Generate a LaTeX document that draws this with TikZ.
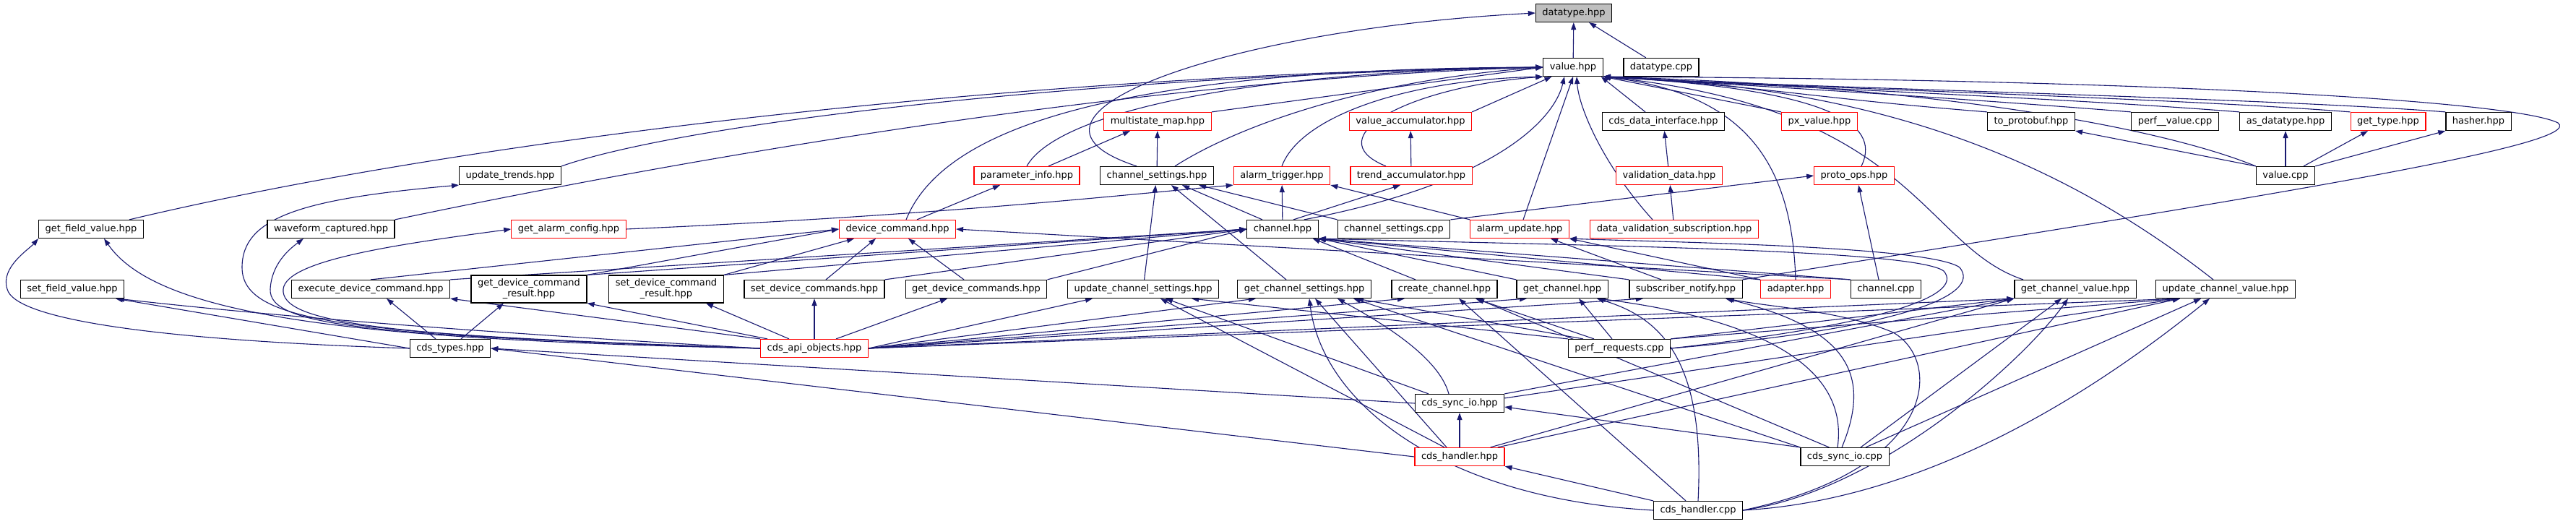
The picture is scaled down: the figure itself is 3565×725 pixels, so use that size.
\documentclass[tikz,border=0pt]{standalone}
\usepackage{fontspec}
\newfontfamily\dvsans{DejaVu Sans}
\usetikzlibrary{arrows.meta,backgrounds}
\definecolor{mitternacht}{HTML}{191970}
\definecolor{wurzelgrau}{HTML}{BFBFBF}
\tikzset{
  datei/.style={draw=black, line width=1.2pt, fill=white, minimum height=25pt,
    inner xsep=9pt, inner ysep=5pt, align=center, font=\dvsans\fontsize{13}{15}\selectfont},
  rot/.style={datei, draw=red},
  wurzel/.style={datei, fill=wurzelgrau},
  kante/.style={draw=mitternacht, line width=1.1pt, -{Triangle[length=10pt,width=7pt]}}
}
\begin{document}
\begin{tikzpicture}[x=1pt, y=-1pt]
    \useasboundingbox (0,0) rectangle (3565,725);

    % Wurzel und value.hpp
    \node[wurzel] (datatypehpp) at (2178,18) {datatype.hpp};
    \node[datei] (valuehpp) at (2177,93) {value.hpp};
    \node[datei] (datatypecpp) at (2299,93) {datatype.cpp};

    % Reihe 3
    \node[rot] (multistate) at (1602,168) {multistate\_map.hpp};
    \node[rot] (valueacc) at (1952,168) {value\_accumulator.hpp};
    \node[datei] (cdsdata) at (2302,168) {cds\_data\_interface.hpp};
    \node[rot] (pxvalue) at (2518,168) {px\_value.hpp};
    \node[datei] (toproto) at (2811,168) {to\_protobuf.hpp};
    \node[datei] (perfvalue) at (3010,168) {perf\_\_value.cpp};
    \node[datei] (asdatatype) at (3163,168) {as\_datatype.hpp};
    \node[rot] (gettype) at (3305,168) {get\_type.hpp};
    \node[datei] (hasher) at (3430,168) {hasher.hpp};

    % Reihe 4
    \node[datei] (updtrends) at (706,243) {update\_trends.hpp};
    \node[rot] (paraminfo) at (1421,243) {parameter\_info.hpp};
    \node[datei] (chsethpp) at (1601,243) {channel\_settings.hpp};
    \node[rot] (alarmtrig) at (1774,243) {alarm\_trigger.hpp};
    \node[rot] (trendacc) at (1953,243) {trend\_accumulator.hpp};
    \node[rot] (validdata) at (2310,243) {validation\_data.hpp};
    \node[rot] (protoops) at (2566,243) {proto\_ops.hpp};
    \node[datei] (valuecpp) at (3163,243) {value.cpp};

    % Reihe 5
    \node[datei] (getfield) at (126,317) {get\_field\_value.hpp};
    \node[datei] (waveform) at (458,317) {waveform\_captured.hpp};
    \node[rot] (getalarmcfg) at (787,317) {get\_alarm\_config.hpp};
    \node[rot] (devcmd) at (1242,317) {device\_command.hpp};
    \node[datei] (channelhpp) at (1775,317) {channel.hpp};
    \node[datei] (chsetcpp) at (1929,317) {channel\_settings.cpp};
    \node[rot] (alarmupd) at (2103,317) {alarm\_update.hpp};
    \node[rot] (dvsub) at (2317,317) {data\_validation\_subscription.hpp};

    % Reihe 6
    \node[datei] (setfield) at (100,400) {set\_field\_value.hpp};
    \node[datei] (execcmd) at (513,400) {execute\_device\_command.hpp};
    \node[datei] (getcmdres) at (732,400) {get\_device\_command\\\_result.hpp};
    \node[datei] (setcmdres) at (922,400) {set\_device\_command\\\_result.hpp};
    \node[datei] (setcmds) at (1127,400) {set\_device\_commands.hpp};
    \node[datei] (getcmds) at (1351,400) {get\_device\_commands.hpp};
    \node[datei] (updchset) at (1582,400) {update\_channel\_settings.hpp};
    \node[datei] (getchset) at (1805,400) {get\_channel\_settings.hpp};
    \node[datei] (createch) at (1999,400) {create\_channel.hpp};
    \node[datei] (getch) at (2162,400) {get\_channel.hpp};
    \node[datei] (subnotify) at (2333,400) {subscriber\_notify.hpp};
    \node[rot] (adapter) at (2485,400) {adapter.hpp};
    \node[datei] (channelcpp) at (2610,400) {channel.cpp};
    \node[datei] (getchval) at (2872,400) {get\_channel\_value.hpp};
    \node[datei] (updchval) at (3080,400) {update\_channel\_value.hpp};

    % untere Reihen
    \node[datei] (cdstypes) at (623,482) {cds\_types.hpp};
    \node[rot] (apiobj) at (1127,482) {cds\_api\_objects.hpp};
    \node[datei] (perfreq) at (2241,482) {perf\_\_requests.cpp};
    \node[datei] (syncioh) at (2020,558) {cds\_sync\_io.hpp};
    \node[rot] (handlerh) at (2020,632) {cds\_handler.hpp};
    \node[datei] (synciocpp) at (2553,632) {cds\_sync\_io.cpp};
    \node[datei] (handlercpp) at (2350,706) {cds\_handler.cpp};

    \begin{scope}[on background layer]
    % Kanten zu datatype.hpp
    \draw[kante] (valuehpp) -- (datatypehpp);
    \draw[kante] (datatypecpp) -- (datatypehpp);
    \draw[kante] ([xshift=-28pt]chsethpp.north) .. controls (1360,160) and (1700,40) .. (datatypehpp.west);

    % Kanten zu value.hpp von links
    \draw[kante] ([xshift=-20pt]getfield.north east) .. controls (700,180) and (1500,100) .. (valuehpp.west);
    \draw[kante] (updtrends.north east) .. controls (950,170) and (1500,105) .. (valuehpp.west);
    \draw[kante] (waveform.north east) .. controls (900,230) and (1550,110) .. (valuehpp.west);
    \draw[kante] ([xshift=12pt]devcmd.north) .. controls (1300,190) and (1500,95) .. (valuehpp.west);
    \draw[kante] (paraminfo.north) .. controls (1460,160) and (1700,100) .. (valuehpp.west);
    \draw[kante] (multistate.north east) -- (valuehpp.west);
    \draw[kante] ([xshift=25pt]chsethpp.north) .. controls (1720,170) and (1900,110) .. (valuehpp.west);
    \draw[kante] (alarmtrig.north) .. controls (1800,160) and (1950,110) .. (valuehpp.south west);
    \draw[kante] ([xshift=-35pt]trendacc.north) .. controls (1820,190) and (1950,120) .. (valuehpp.south west);
    \draw[kante] (valueacc.north east) -- (valuehpp);
    \draw[kante] ([xshift=-20pt]channelhpp.north east) .. controls (2060,255) and (2150,170) .. ([xshift=-12pt]valuehpp.south);
    \draw[kante] ([xshift=5pt]alarmupd.north) -- (valuehpp.south);
    \draw[kante] ([xshift=-30pt]dvsub.north) .. controls (2220,230) and (2185,150) .. ([xshift=5pt]valuehpp.south);
    \draw[kante] ([xshift=-25pt]cdsdata.north) -- ([xshift=-3pt]valuehpp.south east);

    % Kanten zu value.hpp von rechts
    \draw[kante] (pxvalue.north west) -- (valuehpp.south east);
    \foreach \q/\c in {toproto/2500, perfvalue/2700, asdatatype/2850, gettype/3000, hasher/3130}
      \draw[kante] (\q.north west) .. controls (\c,135) and (2450,120) .. (valuehpp.south east);
    \draw[kante] (valuecpp.north west) .. controls (3000,180) and (2700,120) .. (valuehpp.south east);
    \draw[kante] ([xshift=10pt]protoops.north) .. controls (2600,180) and (2560,125) .. (valuehpp.south east);
    \draw[kante] (adapter.north) .. controls (2480,230) and (2420,130) .. (valuehpp.south east);
    \draw[kante] ([xshift=-72pt]getchval.north) .. controls (2660,340) and (2650,150) .. (valuehpp.south east);
    \draw[kante] ([xshift=-17pt]updchval.north) .. controls (2850,220) and (2600,120) .. (valuehpp.south east);
    \draw[kante] (subnotify.north east) .. controls (3150,270) and (3580,200) .. (3540,170)
      .. controls (3480,140) and (3000,110) .. (valuehpp.south east);

    % Reihe 3 und 4
    \draw[kante] ([xshift=30pt]paraminfo.north) -- ([xshift=-38pt]multistate.south);
    \draw[kante] (chsethpp) -- (multistate);
    \draw[kante] (trendacc) -- (valueacc);
    \draw[kante] (validdata) -- (cdsdata);
    \draw[kante] (valuecpp.north west) -- (toproto.south east);
    \draw[kante] (valuecpp) -- (asdatatype);
    \draw[kante] ([xshift=25pt]valuecpp.north) -- ([xshift=-28pt]gettype.south);
    \draw[kante] (valuecpp.north east) -- (hasher.south west);

    % Reihe 5 nach oben
    \draw[kante] ([xshift=27pt]devcmd.north) -- ([xshift=-37pt]paraminfo.south);
    \draw[kante] (getalarmcfg.east) .. controls (1300,298) and (1550,270) .. (alarmtrig.south west);
    \draw[kante] ([xshift=-28pt]channelhpp.north) -- ([xshift=35pt]chsethpp.south);
    \draw[kante] (channelhpp) -- (alarmtrig);
    \draw[kante] ([xshift=15pt]channelhpp.north) -- ([xshift=-15pt]trendacc.south);
    \draw[kante] (chsetcpp.north west) -- ([xshift=58pt]chsethpp.south);
    \draw[kante] (alarmupd.north west) -- (alarmtrig.south east);
    \draw[kante] (dvsub) -- (validdata);
    \draw[kante] (chsetcpp.north east) -- (protoops.west);
    \draw[kante] ([xshift=-10pt]channelcpp.north) -- ([xshift=6pt]protoops.south);

    % Reihe 6 nach oben
    \draw[kante] (execcmd.north) -- (devcmd.west);
    \draw[kante] (getcmdres.north east) -- (devcmd.west);
    \draw[kante] (setcmdres.north east) -- ([xshift=-60pt]devcmd.south);
    \draw[kante] ([xshift=16pt]setcmds.north) -- ([xshift=-30pt]devcmd.south);
    \draw[kante] ([xshift=-17pt]getcmds.north) -- ([xshift=15pt]devcmd.south);
    \foreach \q in {execcmd, getcmdres, setcmdres, setcmds, getcmds}
      \draw[kante] (\q.north east) -- (channelhpp.west);
    \draw[kante] (updchset) -- (chsethpp);
    \draw[kante] ([xshift=-25pt]getchset.north) -- ([xshift=20pt]chsethpp.south);
    \draw[kante] ([xshift=-40pt]createch.north) -- ([xshift=-8pt]channelhpp.south east);
    \draw[kante] (getch.north west) -- (channelhpp.south east);
    \draw[kante] (subnotify.north west) -- (channelhpp.south east);
    \draw[kante] (adapter.north west) -- (channelhpp.south east);
    \draw[kante] (channelcpp.north west) -- (channelhpp.south east);
    \draw[kante] (channelcpp.north west) -- (devcmd.east);
    \draw[kante] ([xshift=-34pt]subnotify.north) -- ([xshift=43pt]alarmupd.south);
    \draw[kante] (adapter.north west) -- (alarmupd.south east);
    \draw[kante] (perfreq.east) .. controls (2600,450) and (2720,410) .. (2690,375)
      .. controls (2650,345) and (2200,340) .. (channelhpp.south east);
    \draw[kante] (perfreq.east) .. controls (2620,456) and (2745,410) .. (2712,370)
      .. controls (2670,340) and (2300,335) .. (alarmupd.south east);

    % cds_types.hpp
    \draw[kante] (cdstypes.west) .. controls (200,470) and (20,440) .. (10,400)
      .. controls (0,370) and (40,345) .. (getfield.south west);
    \draw[kante] (cdstypes.west) -- ([xshift=60pt]setfield.south);
    \draw[kante] ([xshift=-20pt]cdstypes.north) -- ([xshift=22pt]execcmd.south);
    \draw[kante] ([xshift=15pt]cdstypes.north) -- ([xshift=-35pt]getcmdres.south);

    % cds_api_objects.hpp
    \draw[kante] (apiobj.west) .. controls (500,470) and (220,440) .. ([xshift=18pt]getfield.south);
    \draw[kante] (apiobj.west) .. controls (700,462) and (400,440) .. ([xshift=62pt]setfield.south);
    \draw[kante] (apiobj.west) .. controls (500,462) and (335,450) .. (335,370)
      .. controls (335,300) and (420,275) .. (updtrends.south west);
    \draw[kante] (apiobj.west) .. controls (500,464) and (372,450) .. (374,400)
      .. controls (376,365) and (400,345) .. ([xshift=-38pt]waveform.south);
    \draw[kante] (apiobj.west) .. controls (520,466) and (388,445) .. (392,400)
      .. controls (396,360) and (550,338) .. (getalarmcfg.west);
    \draw[kante] (apiobj.north west) -- (execcmd.south east);
    \draw[kante] ([xshift=-65pt]apiobj.north) -- (getcmdres.south east);
    \draw[kante] ([xshift=-35pt]apiobj.north) -- ([xshift=55pt]setcmdres.south);
    \draw[kante] (apiobj) -- (setcmds);
    \draw[kante] ([xshift=30pt]apiobj.north) -- ([xshift=-40pt]getcmds.south);
    \draw[kante] (apiobj.east) -- ([xshift=-70pt]updchset.south);
    \draw[kante] (apiobj.east) -- ([xshift=-67pt]getchset.south);
    \draw[kante] (apiobj.east) -- ([xshift=-55pt]createch.south);
    \draw[kante] (apiobj.east) -- ([xshift=-49pt]getch.south);
    \draw[kante] (apiobj.east) -- ([xshift=-59pt]subnotify.south);
    \draw[kante] (apiobj.east) -- (getchval.south west);
    \draw[kante] (apiobj.east) -- ([xshift=-63pt]updchval.south);

    % perf__requests.cpp
    \draw[kante] (perfreq.north west) -- ([xshift=67pt]updchset.south);
    \draw[kante] ([xshift=-50pt]perfreq.north) -- ([xshift=72pt]getchset.south);
    \draw[kante] ([xshift=-35pt]perfreq.north) -- ([xshift=43pt]createch.south);
    \draw[kante] ([xshift=-10pt]perfreq.north) -- ([xshift=23pt]getch.south);
    \draw[kante] (perfreq.north east) -- (getchval.south west);
    \draw[kante] (perfreq.north east) -- ([xshift=-63pt]updchval.south);

    % cds_sync_io.hpp und cds_handler.hpp
    \draw[kante] (syncioh.west) -- (cdstypes.east);
    \draw[kante] (handlerh.west) -- (cdstypes.east);
    \draw[kante] (handlerh) -- (syncioh);
    \draw[kante] ([xshift=-43pt]syncioh.north) -- ([xshift=31pt]updchset.south);
    \draw[kante] ([xshift=-15pt]syncioh.north) .. controls (1990,490) and (1900,440) .. ([xshift=46pt]getchset.south);
    \draw[kante] ([xshift=-21pt]handlerh.north) -- ([xshift=24pt]updchset.south);
    \draw[kante] ([xshift=-18pt]handlerh.north) -- ([xshift=15pt]getchset.south);
    \draw[kante] (syncioh.north east) -- (getchval.south west);
    \draw[kante] ([yshift=-6pt]syncioh.north east) -- ([xshift=-63pt]updchval.south);
    \draw[kante] ([xshift=-20pt]handlerh.north east) -- (getchval.south west);
    \draw[kante] ([xshift=-10pt]handlerh.north east) -- ([xshift=-63pt]updchval.south);

    % cds_sync_io.cpp
    \draw[kante] (synciocpp.north west) -- ([yshift=-5pt]syncioh.east);
    \draw[kante] (synciocpp.north west) -- ([xshift=68pt]getchset.south);
    \draw[kante] ([xshift=40pt]synciocpp.north west) -- ([xshift=45pt]createch.south);
    \draw[kante] ([xshift=-10pt]synciocpp.north) .. controls (2560,500) and (2420,440) .. ([xshift=50pt]getch.south);
    \draw[kante] ([xshift=-4pt]synciocpp.north) .. controls (2590,520) and (2560,455) .. ([xshift=55pt]subnotify.south);
    \draw[kante] ([xshift=22pt]synciocpp.north) -- ([xshift=-19pt]getchval.south);
    \draw[kante] ([xshift=29pt]synciocpp.north) -- ([xshift=-34pt]updchval.south);

    % cds_handler.cpp
    \draw[kante] (handlercpp.north west) -- (handlerh.south east);
    \draw[kante] (handlercpp.west) .. controls (2000,690) and (1830,560) .. ([xshift=7pt]getchset.south);
    \draw[kante] ([xshift=-17pt]handlercpp.north) -- ([xshift=20pt]createch.south);
    \draw[kante] (handlercpp.north) .. controls (2360,500) and (2300,440) .. ([xshift=48pt]getch.south);
    \draw[kante] (handlercpp.east) .. controls (2680,650) and (2690,500) .. (2620,460)
      .. controls (2550,430) and (2450,425) .. ([xshift=57pt]subnotify.south);
    \draw[kante] (handlercpp.east) .. controls (2600,680) and (2800,500) .. ([xshift=-10pt]getchval.south);
    \draw[kante] (handlercpp.east) .. controls (2700,690) and (2950,500) .. ([xshift=-22pt]updchval.south);
    \end{scope}
\end{tikzpicture}
\end{document}
